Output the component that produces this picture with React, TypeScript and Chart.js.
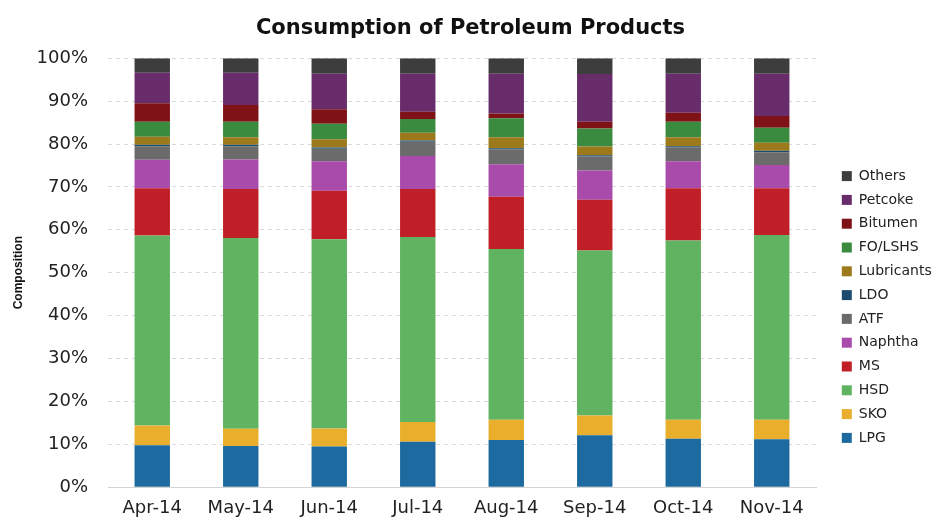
import React, { useEffect, useRef } from "react";
import { Chart, registerables } from "chart.js";

Chart.register(...registerables);

const categories = ["Apr-14", "May-14", "Jun-14", "Jul-14", "Aug-14", "Sep-14", "Oct-14", "Nov-14"];

const lpg = [9.8, 9.6, 9.5, 10.6, 11.0, 12.1, 11.3, 11.2];
const sko = [4.6, 4.0, 4.2, 4.6, 4.7, 4.6, 4.4, 4.5];
const hsd = [44.3, 44.5, 44.1, 43.1, 39.8, 38.5, 41.8, 43.1];
const ms = [11.0, 11.4, 11.3, 11.2, 12.2, 11.8, 12.2, 10.9];
const naphtha = [6.6, 6.9, 6.9, 7.7, 7.6, 6.8, 6.3, 5.4];
const atf = [3.2, 3.1, 2.9, 3.3, 3.4, 3.3, 3.2, 3.0];
const ldo = [0.3, 0.3, 0.3, 0.3, 0.3, 0.3, 0.3, 0.3];
const lubricants = [1.9, 1.8, 1.9, 1.8, 2.6, 2.0, 2.1, 1.9];
const foLshs = [3.5, 3.6, 3.6, 3.2, 4.4, 4.2, 3.6, 3.5];
const bitumen = [4.3, 3.9, 3.4, 1.7, 1.1, 1.6, 2.1, 2.7];
const petcoke = [7.1, 7.5, 8.3, 8.9, 9.3, 11.1, 9.1, 9.9];
const others = [3.4, 3.4, 3.6, 3.6, 3.6, 3.7, 3.6, 3.6];

const yTicks = [0, 10, 20, 30, 40, 50, 60, 70, 80, 90, 100];

const seriesNames = ["LPG", "SKO", "HSD", "MS", "Naphtha", "ATF", "LDO", "Lubricants", "FO/LSHS", "Bitumen", "Petcoke", "Others"];
const seriesValues = [lpg, sko, hsd, ms, naphtha, atf, ldo, lubricants, foLshs, bitumen, petcoke, others];
const seriesColors = [
  "#1d6aa0",
  "#e8ae2c",
  "#60b360",
  "#c01f27",
  "#a84baa",
  "#6b6b6b",
  "#1c4a6e",
  "#9c7a1c",
  "#3a8a3f",
  "#7e1216",
  "#682c6a",
  "#3d3d3d",
];

export default function App() {
  const canvasRef = useRef<HTMLCanvasElement | null>(null);

  useEffect(() => {
    if (!canvasRef.current) return;
    const chart = new Chart(canvasRef.current, {
      type: "bar",
      data: {
        labels: categories,
        datasets: seriesNames.map((name, i) => ({
          label: name,
          data: seriesValues[i],
          backgroundColor: seriesColors[i],
          borderWidth: 0,
          barPercentage: 0.4,
          categoryPercentage: 1.0,
        })),
      },
      options: {
        animation: false,
        responsive: true,
        maintainAspectRatio: false,
        layout: { padding: 0 },
        plugins: {
          tooltip: { enabled: false },
          title: {
            display: true,
            text: "Consumption of Petroleum Products",
            font: { family: "DejaVu Sans", size: 21, weight: "bold" },
            color: "#111111",
            padding: { top: 8, bottom: 17 },
          },
          legend: {
            display: true,
            position: "right",
            align: "center",
            reverse: true,
            maxWidth: 101,
            title: {
              display: true,
              text: "",
              font: { size: 10 },
              padding: { top: 38, bottom: 38 },
            },
            labels: {
              boxWidth: 10,
              boxHeight: 10,
              padding: 9.8,
              color: "#222222",
              font: { family: "DejaVu Sans", size: 14 },
            },
          },
        },
        scales: {
          x: {
            stacked: true,
            grid: { display: false, drawTicks: false },
            border: { display: true, color: "#d4d4d4", width: 1 },
            ticks: {
              color: "#222222",
              padding: 10,
              font: { family: "DejaVu Sans", size: 18 },
              maxRotation: 0,
            },
            afterFit: (scale: any) => {
              scale.height = 30;
            },
          },
          y: {
            stacked: true,
            min: 0,
            max: 100,
            afterBuildTicks: (scale: any) => {
              scale.ticks = yTicks.map((v) => ({ value: v }));
            },
            grid: { color: "#d9d9d9", lineWidth: 1, drawTicks: false },
            border: { display: false, dash: [4, 4] },
            ticks: {
              color: "#222222",
              padding: 20,
              font: { family: "DejaVu Sans", size: 18 },
              callback: (v: any) => v + "%",
            },
            title: {
              display: true,
              text: "Composition",
              color: "#111111",
              font: { family: "Liberation Sans", size: 12, weight: "bold" },
              padding: { top: 3, bottom: 11 },
            },
            afterFit: (scale: any) => {
              scale.width = 100;
            },
          },
          spacer: {
            type: "linear",
            position: "right",
            display: true,
            grid: { display: false, drawTicks: false },
            border: { display: false },
            ticks: { display: false },
            afterFit: (scale: any) => {
              scale.width = 16;
            },
          },
        },
      },
    } as any);
    return () => chart.destroy();
  }, []);

  return (
    <div style={{ position: "relative", width: "925px", height: "510px" }}>
      <canvas ref={canvasRef} />
    </div>
  );
}
